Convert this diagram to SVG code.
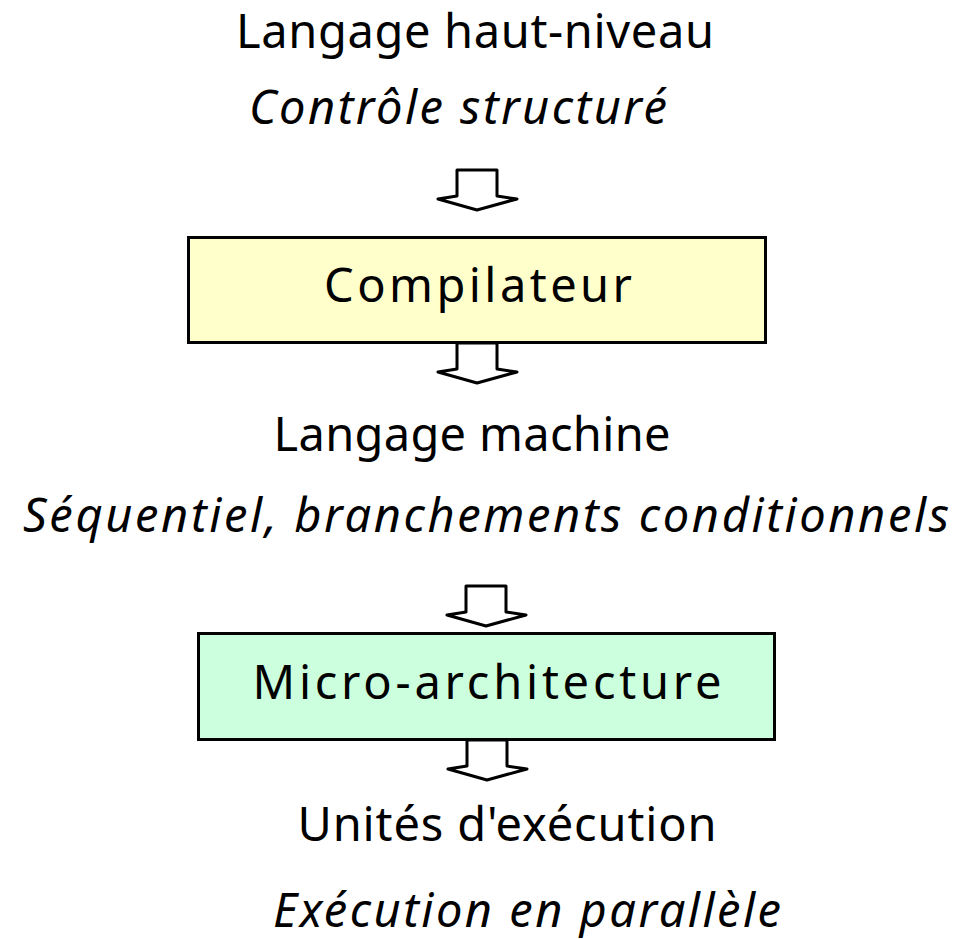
<svg xmlns="http://www.w3.org/2000/svg" width="966" height="939" viewBox="0 0 966 939">
  <defs>
    <style>
      .t { font-family: "Noto Sans", "DejaVu Sans", sans-serif; font-size: 47px; fill: #000; text-anchor: middle; }
      .i { font-style: italic; }
      .box { stroke: #000; stroke-width: 3; }
      .arrow { fill: #fff; stroke: #000; stroke-width: 3; stroke-linejoin: round; }
    </style>
  </defs>
  <rect width="966" height="939" fill="#fff"/>

  <g id="source">
    <text class="t" x="475" y="48" textLength="478" lengthAdjust="spacing">Langage haut-niveau</text>
    <text class="t i" x="458" y="124" textLength="418" lengthAdjust="spacing">Contrôle structuré</text>
  </g>

  <g id="compilateur">
    <rect class="box" x="188.5" y="237.5" width="577" height="105" fill="#ffffcc"/>
    <text class="t" x="478" y="302" textLength="308" lengthAdjust="spacing">Compilateur</text>
  </g>

  <g id="machine">
    <text class="t" x="472" y="451" textLength="397" lengthAdjust="spacing">Langage machine</text>
    <text class="t i" x="486" y="532" textLength="926" lengthAdjust="spacing">Séquentiel, branchements conditionnels</text>
  </g>

  <g id="micro-architecture">
    <rect class="box" x="198.5" y="633.5" width="576" height="106" fill="#ccffdd"/>
    <text class="t" x="487" y="699" textLength="469" lengthAdjust="spacing">Micro-architecture</text>
  </g>

  <g id="execution">
    <text class="t" x="507" y="841" textLength="419" lengthAdjust="spacing">Unités d'exécution</text>
    <text class="t i" x="527" y="927" textLength="508" lengthAdjust="spacing">Exécution en parallèle</text>
  </g>

  <g id="connectors">
    <path class="arrow" d="M457,170 H497 V196 L517,199 L477,210 L438,199 L457,196 Z"/>
    <path class="arrow" d="M457,343 H497 V369 L517,372 L477,383 L438,372 L457,369 Z"/>
    <path class="arrow" d="M466,586 H506 V612 L526,615 L486,626 L447,615 L466,612 Z"/>
    <path class="arrow" d="M467,740 H507 V766 L527,769 L487,780 L448,769 L467,766 Z"/>
  </g>
</svg>
